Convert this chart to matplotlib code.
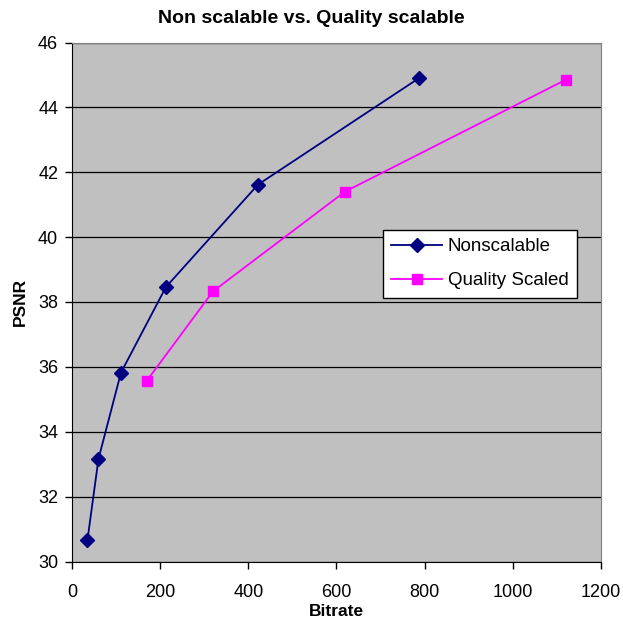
import matplotlib.pyplot as plt

plt.rcParams['font.family'] = ['Liberation Sans', 'DejaVu Sans']

# данные
nonscal_bitrate = [35, 60, 111, 213, 422, 787]
nonscal_psnr = [30.66, 33.16, 35.82, 38.46, 41.62, 44.90]
quality_bitrate = [169, 320, 619, 1120]
quality_psnr = [35.56, 38.33, 41.40, 44.85]
y_ticks = [30, 32, 34, 36, 38, 40, 42, 44, 46]
x_ticks = [0, 200, 400, 600, 800, 1000, 1200]

fig = plt.figure(figsize=(6.23, 6.25), dpi=100)
ax = fig.add_axes([0.1156, 0.1016, 0.849, 0.8304])
ax.set_facecolor('#C0C0C0')

ax.plot(nonscal_bitrate, nonscal_psnr, color='#000080', marker='D', markersize=7.5,
        linewidth=1.3, label='Nonscalable', zorder=3)
ax.plot(quality_bitrate, quality_psnr, color='#FF00FF', marker='s', markersize=7.5,
        linewidth=1.3, label='Quality Scaled', zorder=3)

ax.set_xlim(0, 1200)
ax.set_ylim(30, 46)
ax.set_xticks(x_ticks)
ax.set_yticks(y_ticks)
ax.yaxis.grid(True, color='black', linewidth=0.9)
ax.set_axisbelow(True)
ax.tick_params(direction='out', length=5, width=1, labelsize=13, colors='black')
ax.tick_params(axis='x', pad=11)
ax.tick_params(axis='y', pad=5)

for side in ['top', 'right']:
    ax.spines[side].set_color('#808080')
for side in ['left', 'bottom']:
    ax.spines[side].set_color('black')

ax.set_xlabel('Bitrate', fontsize=12.5, fontweight='bold', labelpad=2)
ax.set_ylabel('PSNR', fontsize=12.5, fontweight='bold', labelpad=7)
fig.text(0.5, 0.971, 'Non scalable vs. Quality scalable', fontsize=14,
         fontweight='bold', ha='center', va='center')

leg = ax.legend(loc='upper left', bbox_to_anchor=(0.588, 0.639), borderaxespad=0,
                fancybox=False, edgecolor='black', framealpha=1, fontsize=13.5,
                handlelength=2.7, handletextpad=0.3, borderpad=0.45, labelspacing=0.9)
leg.get_frame().set_linewidth(1)

plt.savefig('out.png', dpi=100)
